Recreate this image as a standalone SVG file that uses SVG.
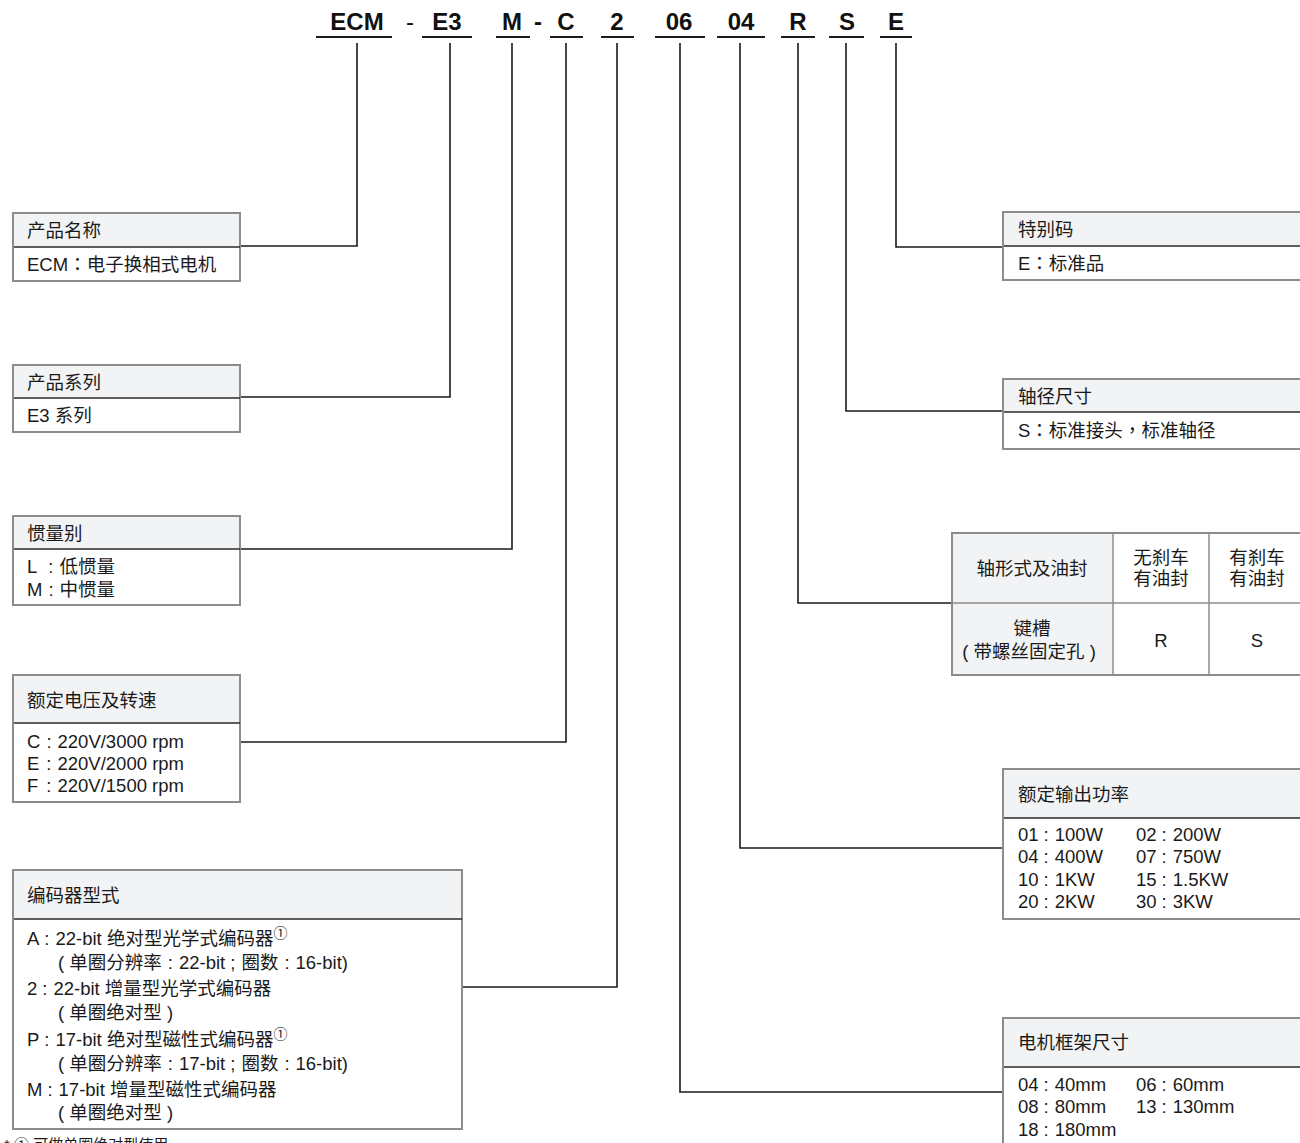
<svg xmlns="http://www.w3.org/2000/svg" width="1300" height="1143" viewBox="0 0 1300 1143">
<style>
text{font-family:"Liberation Sans","Noto Sans CJK SC",sans-serif;fill:#1a1a1a}
.t{font-size:18.5px}
.p{font-family:"Noto Sans CJK TC",sans-serif}
.code{font-size:24px;font-weight:bold;text-anchor:middle;fill:#111}
.box{fill:#fff;stroke:#8c8c8c;stroke-width:2}
.hd{fill:#f2f3f5}
.dv{stroke:#2a2a2a;stroke-width:1.3}
.cn{fill:none;stroke:#1a1a1a;stroke-width:1.6}
.ul{stroke:#1a1a1a;stroke-width:2}
.sup{font-size:14px}
.c{text-anchor:middle}
.g{stroke:#8c8c8c;stroke-width:1.5}
</style>
<rect width="1300" height="1143" fill="#fff"/>
<g id="code">
<text class="code" x="357" y="30">ECM</text>
<text class="code" x="410" y="30" style="font-weight:normal">-</text>
<text class="code" x="447" y="30">E3</text>
<text class="code" x="512" y="30">M</text>
<text class="code" x="538" y="30">-</text>
<text class="code" x="566" y="30">C</text>
<text class="code" x="617" y="30">2</text>
<text class="code" x="679" y="30">06</text>
<text class="code" x="741" y="30">04</text>
<text class="code" x="798" y="30">R</text>
<text class="code" x="847" y="30">S</text>
<text class="code" x="896" y="30">E</text>
<line class="ul" x1="316" y1="37" x2="392" y2="37"/>
<line class="ul" x1="422" y1="37" x2="472" y2="37"/>
<line class="ul" x1="496" y1="37" x2="530" y2="37"/>
<line class="ul" x1="550" y1="37" x2="583" y2="37"/>
<line class="ul" x1="601" y1="37" x2="634" y2="37"/>
<line class="ul" x1="655" y1="37" x2="705" y2="37"/>
<line class="ul" x1="717" y1="37" x2="765" y2="37"/>
<line class="ul" x1="781" y1="37" x2="815" y2="37"/>
<line class="ul" x1="829" y1="37" x2="864" y2="37"/>
<line class="ul" x1="880" y1="37" x2="912" y2="37"/>
</g>
<g id="connectors">
<polyline class="cn" points="357,43 357,246 240,246"/>
<polyline class="cn" points="450,43 450,397 240,397"/>
<polyline class="cn" points="512,43 512,549 240,549"/>
<polyline class="cn" points="566,43 566,742 241,742"/>
<polyline class="cn" points="617,43 617,987 462,987"/>
<polyline class="cn" points="680,43 680,1092 1003,1092"/>
<polyline class="cn" points="740,43 740,848 1003,848"/>
<polyline class="cn" points="798,43 798,603 952,603"/>
<polyline class="cn" points="846,43 846,411 1003,411"/>
<polyline class="cn" points="896,43 896,247 1003,247"/>
</g>
<g id="n-name">
<rect class="box" x="13" y="213" width="227" height="68"/>
<rect class="hd" x="14" y="214" width="225" height="33"/>
<line class="dv" x1="14" y1="247" x2="240" y2="247"/>
<text class="t" x="27" y="237">产品名称</text>
<text class="t" x="27" y="271">ECM<tspan class="p">：</tspan>电子换相式电机</text>
</g>
<g id="n-series">
<rect class="box" x="13" y="365" width="227" height="67"/>
<rect class="hd" x="14" y="366" width="225" height="32"/>
<line class="dv" x1="14" y1="398" x2="240" y2="398"/>
<text class="t" x="27" y="389">产品系列</text>
<text class="t" x="27" y="422">E3 系列</text>
</g>
<g id="n-inertia">
<rect class="box" x="13" y="516" width="227" height="89"/>
<rect class="hd" x="14" y="517" width="225" height="32"/>
<line class="dv" x1="14" y1="549" x2="240" y2="549"/>
<text class="t" x="27" y="540">惯量别</text>
<text class="t" x="27" y="573">L<tspan dx="11">:</tspan><tspan dx="6">低惯量</tspan></text>
<text class="t" x="27" y="596">M<tspan dx="6">:</tspan><tspan dx="6">中惯量</tspan></text>
</g>
<g id="n-voltage">
<rect class="box" x="13" y="675" width="227" height="127"/>
<rect class="hd" x="14" y="676" width="225" height="47"/>
<line class="dv" x1="14" y1="723" x2="240" y2="723"/>
<text class="t" x="27" y="707">额定电压及转速</text>
<text class="t" x="27" y="748">C<tspan dx="6">:</tspan><tspan dx="6">220V/3000 rpm</tspan></text>
<text class="t" x="27" y="770">E<tspan dx="7">:</tspan><tspan dx="6">220V/2000 rpm</tspan></text>
<text class="t" x="27" y="792">F<tspan dx="8">:</tspan><tspan dx="6">220V/1500 rpm</tspan></text>
</g>
<g id="n-encoder">
<rect class="box" x="13" y="870" width="449" height="259"/>
<rect class="hd" x="14" y="871" width="447" height="48"/>
<line class="dv" x1="14" y1="919" x2="462" y2="919"/>
<text class="t" x="27" y="902">编码器型式</text>
<text class="t" x="27" y="945">A<tspan dx="5">:</tspan><tspan dx="6">22-bit 绝对型光学式编码器</tspan><tspan class="sup" dy="-7">①</tspan></text>
<text class="t" x="58" y="969">( 单圈分辨率<tspan dx="6">:</tspan><tspan dx="6">22-bit</tspan><tspan dx="5">;</tspan><tspan dx="6">圈数</tspan><tspan dx="6">:</tspan><tspan dx="6">16-bit)</tspan></text>
<text class="t" x="27" y="995">2<tspan dx="5">:</tspan><tspan dx="6">22-bit 增量型光学式编码器</tspan></text>
<text class="t" x="58" y="1019">( 单圈绝对型 )</text>
<text class="t" x="27" y="1046">P<tspan dx="5">:</tspan><tspan dx="6">17-bit 绝对型磁性式编码器</tspan><tspan class="sup" dy="-7">①</tspan></text>
<text class="t" x="58" y="1070">( 单圈分辨率<tspan dx="6">:</tspan><tspan dx="6">17-bit</tspan><tspan dx="5">;</tspan><tspan dx="6">圈数</tspan><tspan dx="6">:</tspan><tspan dx="6">16-bit)</tspan></text>
<text class="t" x="27" y="1096">M<tspan dx="5">:</tspan><tspan dx="6">17-bit 增量型磁性式编码器</tspan></text>
<text class="t" x="58" y="1119">( 单圈绝对型 )</text>
</g>
<g id="footnote">
<text x="4" y="1150" style="font-size:15px">* ① 可做单圈绝对型使用</text>
</g>
<g id="n-special">
<rect class="box" x="1003" y="212" width="310" height="68"/>
<rect class="hd" x="1004" y="213" width="308" height="33"/>
<line class="dv" x1="1004" y1="246" x2="1313" y2="246"/>
<text class="t" x="1018" y="236">特别码</text>
<text class="t" x="1018" y="270">E<tspan class="p">：</tspan>标准品</text>
</g>
<g id="n-shaft">
<rect class="box" x="1003" y="379" width="310" height="70"/>
<rect class="hd" x="1004" y="380" width="308" height="32"/>
<line class="dv" x1="1004" y1="412" x2="1313" y2="412"/>
<text class="t" x="1018" y="403">轴径尺寸</text>
<text class="t" x="1018" y="437">S<tspan class="p">：</tspan>标准接头<tspan class="p">，</tspan>标准轴径</text>
</g>
<g id="n-table">
<rect class="box" x="952" y="533" width="360" height="142"/>
<rect class="hd" x="953" y="534" width="160" height="140"/>
<line class="g" x1="952" y1="603" x2="1312" y2="603"/>
<line class="g" x1="1113" y1="533" x2="1113" y2="675"/>
<line class="g" x1="1209" y1="533" x2="1209" y2="675"/>
<text class="t c" x="1032" y="575">轴形式及油封</text>
<text class="t c" x="1161" y="564">无刹车</text>
<text class="t c" x="1161" y="585">有油封</text>
<text class="t c" x="1257" y="564">有刹车</text>
<text class="t c" x="1257" y="585">有油封</text>
<text class="t c" x="1032" y="635">键槽</text>
<text class="t c" x="1029" y="658">( 带螺丝固定孔 )</text>
<text class="t c" x="1161" y="647">R</text>
<text class="t c" x="1257" y="647">S</text>
</g>
<g id="n-power">
<rect class="box" x="1003" y="769" width="310" height="150"/>
<rect class="hd" x="1004" y="770" width="308" height="48"/>
<line class="dv" x1="1004" y1="818" x2="1313" y2="818"/>
<text class="t" x="1018" y="801">额定输出功率</text>
<text class="t" x="1018" y="841">01<tspan dx="5">:</tspan><tspan dx="6">100W</tspan></text>
<text class="t" x="1136" y="841">02<tspan dx="5">:</tspan><tspan dx="6">200W</tspan></text>
<text class="t" x="1018" y="863">04<tspan dx="5">:</tspan><tspan dx="6">400W</tspan></text>
<text class="t" x="1136" y="863">07<tspan dx="5">:</tspan><tspan dx="6">750W</tspan></text>
<text class="t" x="1018" y="886">10<tspan dx="5">:</tspan><tspan dx="6">1KW</tspan></text>
<text class="t" x="1136" y="886">15<tspan dx="5">:</tspan><tspan dx="6">1.5KW</tspan></text>
<text class="t" x="1018" y="908">20<tspan dx="5">:</tspan><tspan dx="6">2KW</tspan></text>
<text class="t" x="1136" y="908">30<tspan dx="5">:</tspan><tspan dx="6">3KW</tspan></text>
</g>
<g id="n-frame">
<rect class="box" x="1003" y="1018" width="310" height="140"/>
<rect class="hd" x="1004" y="1019" width="308" height="48"/>
<line class="dv" x1="1004" y1="1067" x2="1313" y2="1067"/>
<text class="t" x="1018" y="1049">电机框架尺寸</text>
<text class="t" x="1018" y="1091">04<tspan dx="5">:</tspan><tspan dx="6">40mm</tspan></text>
<text class="t" x="1136" y="1091">06<tspan dx="5">:</tspan><tspan dx="6">60mm</tspan></text>
<text class="t" x="1018" y="1113">08<tspan dx="5">:</tspan><tspan dx="6">80mm</tspan></text>
<text class="t" x="1136" y="1113">13<tspan dx="5">:</tspan><tspan dx="6">130mm</tspan></text>
<text class="t" x="1018" y="1136">18<tspan dx="5">:</tspan><tspan dx="6">180mm</tspan></text>
</g>
</svg>
